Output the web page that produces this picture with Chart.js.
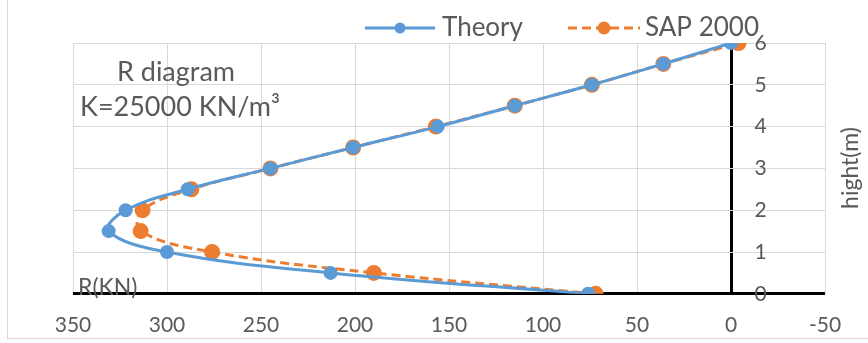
<!DOCTYPE html>
<html>
<head>
<meta charset="utf-8">
<script src="https://cdn.jsdelivr.net/npm/chart.js@4"></script>
<style>
  body { margin: 0; background: #fff; }
</style>
</head>
<body>
<canvas id="rdiag" width="868" height="343"></canvas>
<script>
// heights (m) and soil reaction R (KN)
const heights = [0, 0.5, 1, 1.5, 2, 2.5, 3, 3.5, 4, 4.5, 5, 5.5, 6];
const theoryR = [76, 213, 300, 331, 322, 289, 245, 201, 156, 115, 74, 36, 0];
const sapR = [72, 190, 276, 314, 313, 287, 245, 201, 157, 115, 74, 36, -4];
const xTicks = [350, 300, 250, 200, 150, 100, 50, 0, -50];
const yTicks = [0, 1, 2, 3, 4, 5, 6];

const FONT = "Lato, 'Open Sans', sans-serif";
const GREY = '#595959';

function toPoints(xs, ys) {
    return xs.map((x, i) => ({x: x, y: ys[i]}));
}

/* textos sueltos, leyenda y marco */
const extras = {
    id: 'extras',
    afterDraw(chart) {
        const c = chart.ctx;
        c.save();
        c.fillStyle = GREY;
        c.textBaseline = 'middle';
        c.font = '27px ' + FONT;
        c.textAlign = 'center';
        c.fillText('R diagram', 176, 72);
        c.textAlign = 'left';
        c.fillText('K=25000 KN/m\u00B3', 80, 107);
        c.font = '23px ' + FONT;
        c.fillText('R(KN)', 78, 288);

        c.save();
        c.translate(851, 168);
        c.rotate(-Math.PI / 2);
        c.textAlign = 'center';
        c.font = '23px ' + FONT;
        c.fillText('hight(m)', 0, 0);
        c.restore();

        // leyenda
        const items = [
            {x0: 365, x1: 435, tx: 442},
            {x0: 568, x1: 640, tx: 645}
        ];
        chart.data.datasets.forEach((ds, i) => {
            const it = items[i];
            c.strokeStyle = ds.borderColor;
            c.lineWidth = 3;
            c.setLineDash(ds.borderDash || []);
            c.beginPath();
            c.moveTo(it.x0, 28);
            c.lineTo(it.x1, 28);
            c.stroke();
            c.setLineDash([]);
            c.fillStyle = ds.pointBackgroundColor;
            c.beginPath();
            c.arc((it.x0 + it.x1) / 2, 28, ds.pointRadius, 0, Math.PI * 2);
            c.fill();
            c.fillStyle = GREY;
            c.font = '26px ' + FONT;
            c.textAlign = 'left';
            c.fillText(ds.label, it.tx, 28);
        });

        c.strokeStyle = '#d9d9d9';
        c.lineWidth = 1;
        c.strokeRect(7.5, -2, 862, 340.5);
        c.restore();
    }
};

const canvas = document.getElementById('rdiag');
const grafico = new Chart(canvas, {
    type: 'scatter',
    data: {
        datasets: [
            {
                label: 'Theory',
                data: toPoints(theoryR, heights),
                showLine: true,
                tension: 0.4,
                borderColor: '#5B9BD5',
                backgroundColor: '#5B9BD5',
                pointBackgroundColor: '#5B9BD5',
                pointBorderColor: '#5B9BD5',
                borderWidth: 3,
                pointRadius: 5.5,
            },
            {
                label: 'SAP 2000',
                data: toPoints(sapR, heights),
                showLine: true,
                tension: 0.4,
                borderColor: '#ED7D31',
                backgroundColor: '#ED7D31',
                pointBackgroundColor: '#ED7D31',
                pointBorderColor: '#ED7D31',
                borderWidth: 3,
                borderDash: [9, 5],
                pointRadius: 6.5,
            },
        ]
    },
    options: {
        responsive: false,
        animation: false,
        layout: {padding: {left: 73, right: 43, top: 43, bottom: -14}},
        plugins: {legend: {display: false}, tooltip: {enabled: false}},
        scales: {
            x: {
                type: 'linear',
                reverse: true,
                min: -50,
                max: 350,
                afterBuildTicks: (s) => { s.ticks = xTicks.map(v => ({value: v})); },
                border: {display: false},
                grid: {
                    drawTicks: false,
                    color: (ctx) => ctx.tick && ctx.tick.value === 0 ? '#000' : '#d9d9d9',
                    lineWidth: (ctx) => ctx.tick && ctx.tick.value === 0 ? 3 : 1,
                },
                ticks: {color: GREY, font: {size: 21, family: FONT}, padding: 19, maxRotation: 0},
            },
            y: {
                type: 'linear',
                position: {x: -19},
                min: 0,
                max: 6,
                afterBuildTicks: (s) => { s.ticks = yTicks.map(v => ({value: v})); },
                border: {display: false},
                grid: {
                    drawTicks: false,
                    color: (ctx) => ctx.tick && ctx.tick.value === 0 ? '#000' : '#d9d9d9',
                    lineWidth: (ctx) => ctx.tick && ctx.tick.value === 0 ? 3 : 1,
                },
                ticks: {color: GREY, font: {size: 21, family: FONT}, padding: 0},
            }
        }
    },
    plugins: [extras]
});
</script>
</body>
</html>
